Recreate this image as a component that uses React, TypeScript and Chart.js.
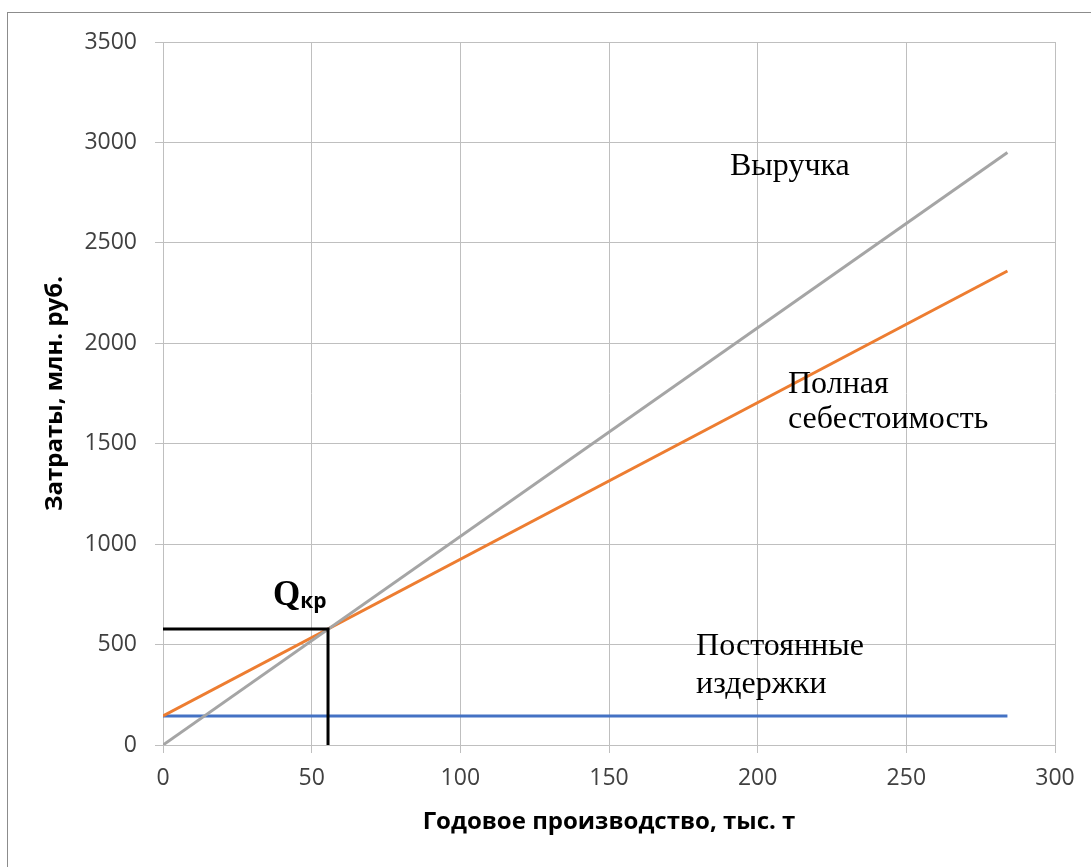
import React, { useEffect, useRef } from "react";
import { Chart, registerables } from "chart.js";

Chart.register(...registerables);

// ---- Data ----
const lineX = [0, 284];
const revenue = [0, 2950];
const fullCost = [145, 2360];
const fixedCost = [145, 145];
const breakEvenX = [0, 55.5, 55.5];
const breakEvenY = [577, 577, 0];

const xTitle = "Годовое производство, тыс. т";
const yTitle = "Затраты, млн. руб.";

const labels = [
  { text: "Выручка", x: 190.7, y: 2838 },
  { text: "Полная", x: 210.2, y: 1752 },
  { text: "себестоимость", x: 210.2, y: 1578 },
  { text: "Постоянные", x: 179.3, y: 448 },
  { text: "издержки", x: 179.3, y: 259 },
];
const qLabel = { main: "Q", sub: "кр", x: 37.0, y: 697 };

const pts = (xs: number[], ys: number[]) => xs.map((x, i) => ({ x, y: ys[i] }));

const SANS = "'Open Sans', 'Noto Sans', sans-serif";
const SERIF = "'Liberation Serif', 'DejaVu Serif', serif";

const annotationPlugin = {
  id: "annotations",
  beforeDraw(chart: any) {
    const ctx = chart.ctx;
    ctx.save();
    ctx.fillStyle = "#ffffff";
    ctx.fillRect(0, 0, chart.width, chart.height);
    ctx.strokeStyle = "#8c8c8c";
    ctx.lineWidth = 1;
    ctx.strokeRect(7.5, 12.5, chart.width + 20, chart.height + 20);
    ctx.restore();
  },
  afterDatasetsDraw(chart: any) {
    const ctx = chart.ctx;
    const xs = chart.scales.x;
    const ys = chart.scales.y;
    ctx.save();
    ctx.fillStyle = "#000000";
    ctx.textBaseline = "alphabetic";
    ctx.textAlign = "left";
    ctx.font = `32px ${SERIF}`;
    for (const l of labels) {
      ctx.fillText(l.text, xs.getPixelForValue(l.x), ys.getPixelForValue(l.y));
    }
    const qx = xs.getPixelForValue(qLabel.x);
    const qy = ys.getPixelForValue(qLabel.y);
    ctx.font = `bold 35px ${SERIF}`;
    ctx.fillText(qLabel.main, qx, qy);
    const w = ctx.measureText(qLabel.main).width;
    ctx.font = `bold 21px ${SANS}`;
    ctx.fillText(qLabel.sub, qx + w, qy + 3);
    ctx.restore();
  },
};

export default function App() {
  const ref = useRef<HTMLCanvasElement>(null);
  useEffect(() => {
    if (!ref.current) return;
    const grid = "#bfbfbf";
    const tickFont = { family: SANS, size: 23 };
    const titleFont = { family: SANS, size: 24, weight: "bold" };
    const chart = new Chart(ref.current, {
      type: "line",
      data: {
        datasets: [
          {
            label: "Qкр",
            data: pts(breakEvenX, breakEvenY),
            borderColor: "#000000",
            borderWidth: 3,
            pointRadius: 0,
            borderJoinStyle: "miter",
            fill: false,
          },
          {
            label: "Выручка",
            data: pts(lineX, revenue),
            borderColor: "#a5a5a5",
            borderWidth: 3,
            pointRadius: 0,
            fill: false,
          },
          {
            label: "Полная себестоимость",
            data: pts(lineX, fullCost),
            borderColor: "#ed7d31",
            borderWidth: 3,
            pointRadius: 0,
            fill: false,
          },
          {
            label: "Постоянные издержки",
            data: pts(lineX, fixedCost),
            borderColor: "#4472c4",
            borderWidth: 3,
            pointRadius: 0,
            fill: false,
          },
        ],
      } as any,
      options: {
        animation: false,
        responsive: false,
        parsing: false as any,
        layout: { padding: { left: 0, top: 42, right: 36, bottom: 0 } },
        plugins: { legend: { display: false }, tooltip: { enabled: false } },
        scales: {
          x: {
            type: "linear",
            min: 0,
            max: 300,
            ticks: {
              stepSize: 50,
              color: "#404040",
              font: tickFont,
              padding: 12,
              callback: (v: any) => String(v),
            },
            grid: { color: grid, tickLength: 8, lineWidth: 1 },
            border: { color: grid },
            title: {
              display: true,
              text: xTitle,
              color: "#000000",
              font: titleFont,
              padding: { top: 0, bottom: 30 },
            },
            afterFit: (s: any) => {
              s.height = 122;
            },
          },
          y: {
            type: "linear",
            min: 0,
            max: 3500,
            ticks: {
              stepSize: 500,
              color: "#404040",
              font: tickFont,
              padding: 18,
              callback: (v: any) => String(v),
            },
            grid: { color: grid, tickLength: 8, lineWidth: 1 },
            border: { color: grid },
            title: {
              display: true,
              text: yTitle,
              color: "#000000",
              font: titleFont,
              padding: { top: 41, bottom: 0 },
            },
            afterFit: (s: any) => {
              s.width = 163;
            },
          },
        },
      } as any,
      plugins: [annotationPlugin],
    });
    return () => chart.destroy();
  }, []);
  return (
    <div style={{ position: "absolute", left: 0, top: 0, width: 1091, height: 867 }}>
      <canvas ref={ref} width={1091} height={867} />
    </div>
  );
}
